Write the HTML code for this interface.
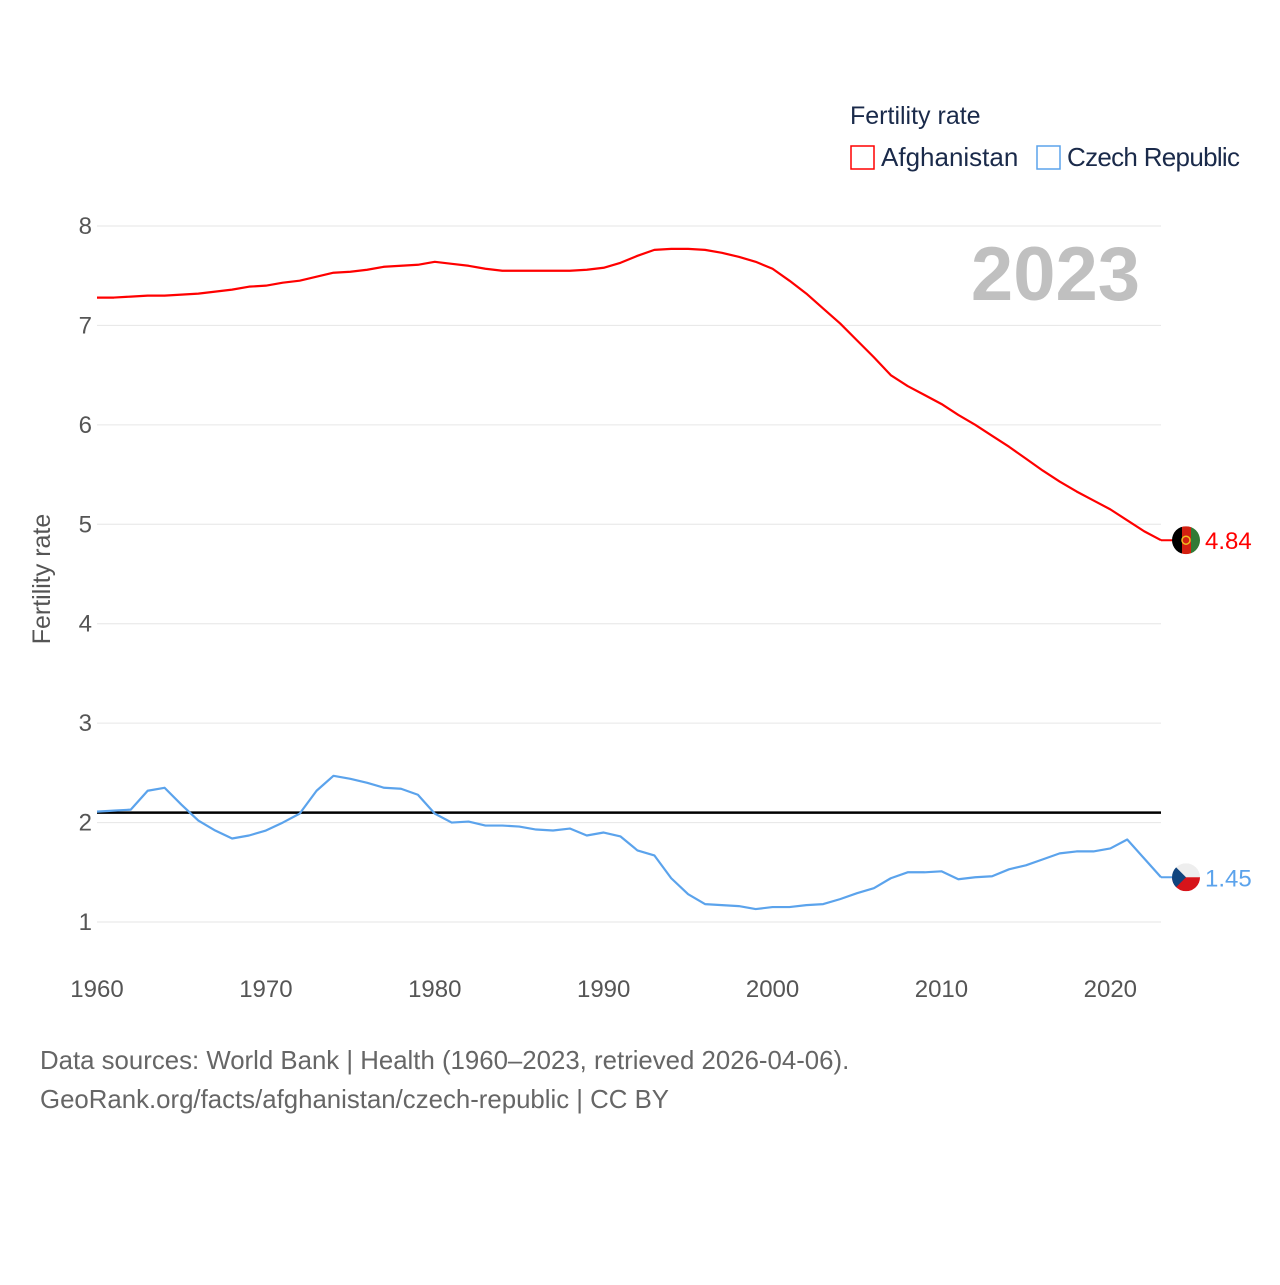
<!DOCTYPE html>
<html><head><meta charset="utf-8"><style>
body{margin:0;background:#fff;font-family:"Liberation Sans",sans-serif}
svg text{font-family:"Liberation Sans",sans-serif}
</style></head><body>
<svg id="chart" width="1280" height="1280" xmlns="http://www.w3.org/2000/svg">
<g id="grid"></g>
<g id="yticks"></g>
<g id="xticks"></g>
<text x="1140" y="300" text-anchor="end" font-size="76" font-weight="bold" fill="#c0c0c0">2023</text>
<text transform="translate(50,579) rotate(-90)" text-anchor="middle" font-size="25" fill="#555">Fertility rate</text>
<g>
<text x="850" y="124" font-size="25" fill="#1a2a4a">Fertility rate</text>
<rect x="851" y="146" width="23" height="23" fill="none" stroke="#ff0000" stroke-width="1.5"/>
<text x="881" y="166" font-size="26" fill="#1a2a4a">Afghanistan</text>
<rect x="1037" y="146" width="23" height="23" fill="none" stroke="#5ba3ec" stroke-width="1.5"/>
<text x="1067" y="166" font-size="26" fill="#1a2a4a" textLength="173">Czech Republic</text>
</g>
<g id="series"></g>
<text x="40" y="1069" font-size="25.8" fill="#666">Data sources: World Bank | Health (1960–2023, retrieved 2026-04-06).</text>
<text x="40" y="1108" font-size="25.8" fill="#666">GeoRank.org/facts/afghanistan/czech-republic | CC BY</text>
</svg>
<script>
const years=[];for(let y=1960;y<=2023;y++)years.push(y);
const afghanistan=[7.28,7.28,7.29,7.30,7.30,7.31,7.32,7.34,7.36,7.39,7.40,7.43,7.45,7.49,7.53,7.54,7.56,7.59,7.60,7.61,7.64,7.62,7.60,7.57,7.55,7.55,7.55,7.55,7.55,7.56,7.58,7.63,7.70,7.76,7.77,7.77,7.76,7.73,7.69,7.64,7.57,7.45,7.32,7.17,7.02,6.85,6.68,6.50,6.39,6.30,6.21,6.10,6.00,5.89,5.78,5.66,5.54,5.43,5.33,5.24,5.15,5.04,4.93,4.84];
const czech=[2.11,2.12,2.13,2.32,2.35,2.18,2.02,1.92,1.84,1.87,1.92,2.00,2.09,2.32,2.47,2.44,2.40,2.35,2.34,2.28,2.09,2.00,2.01,1.97,1.97,1.96,1.93,1.92,1.94,1.87,1.90,1.86,1.72,1.67,1.44,1.28,1.18,1.17,1.16,1.13,1.15,1.15,1.17,1.18,1.23,1.29,1.34,1.44,1.50,1.50,1.51,1.43,1.45,1.46,1.53,1.57,1.63,1.69,1.71,1.71,1.74,1.83,1.64,1.45];
const yTicks=[1,2,3,4,5,6,7,8];
const xTicks=[1960,1970,1980,1990,2000,2010,2020];
const replacement=2.1;
const NS="http://www.w3.org/2000/svg";
const X=y=>97+(y-1960)*(1161-97)/63;
const Y=v=>922-(v-1)*(922-226)/7;
function mk(tag,attrs,parent){const e=document.createElementNS(NS,tag);for(const k in attrs)e.setAttribute(k,attrs[k]);document.getElementById(parent).appendChild(e);return e;}
yTicks.forEach(t=>{
 const l=mk('line',{x1:97,x2:1161,y1:Y(t),y2:Y(t),stroke:'#e6e6e6','stroke-width':1},'grid');
 
 
 const tx=mk('text',{x:92,y:Y(t)+8,'text-anchor':'end','font-size':24,fill:'#555'},'yticks');
 tx.textContent=t;
 
 
});
xTicks.forEach(t=>{
 const tx=mk('text',{x:X(t),y:997,'text-anchor':'middle','font-size':24,fill:'#555'},'xticks');
 tx.textContent=t;
 
 
});
const rl=mk('line',{x1:X(1960),x2:X(2023),y1:Y(replacement),y2:Y(replacement),stroke:'#000','stroke-width':2.5},'series');


function series(data,color,name){
 const p=mk('polyline',{points:data.map((v,i)=>X(years[i])+','+Y(v)).join(' '),fill:'none',stroke:color,'stroke-width':2.2,'stroke-linejoin':'round'},'series');
 
 
}
series(czech,'#5ba3ec','czech');
series(afghanistan,'#ff0000','afghanistan');
function endLabel(v,color,name,flag){
 const y=Y(v),cx=1186;
 mk('line',{x1:1161,x2:cx,y1:y,y2:y,stroke:color,'stroke-width':2},'series');
 const g=document.createElementNS(NS,'g');document.getElementById('series').appendChild(g);
 
 
 g.innerHTML=flag(cx,y);
 const t=mk('text',{x:1205,y:y+9,'font-size':24,fill:color},'series');
 t.textContent=v.toFixed(2);
 
 
}
endLabel(afghanistan[afghanistan.length-1],'#ff0000','afghanistan',(cx,cy)=>`<clipPath id="ca"><circle cx="${cx}" cy="${cy}" r="14"/></clipPath><g clip-path="url(#ca)"><rect x="${cx-14}" y="${cy-14}" width="10" height="28" fill="#000"/><rect x="${cx-4}" y="${cy-14}" width="9" height="28" fill="#d32011"/><rect x="${cx+5}" y="${cy-14}" width="10" height="28" fill="#327a36"/><circle cx="${cx}" cy="${cy}" r="4" fill="none" stroke="#f0c020" stroke-width="1.5"/></g>`);
endLabel(czech[czech.length-1],'#5ba3ec','czech',(cx,cy)=>`<clipPath id="cc"><circle cx="${cx}" cy="${cy}" r="14"/></clipPath><g clip-path="url(#cc)"><rect x="${cx-14}" y="${cy-14}" width="28" height="14" fill="#eee"/><rect x="${cx-14}" y="${cy}" width="28" height="14" fill="#d7141a"/><polygon points="${cx-14},${cy-14} ${cx},${cy} ${cx-14},${cy+14}" fill="#11457e"/></g>`);
</script>
</body></html>
